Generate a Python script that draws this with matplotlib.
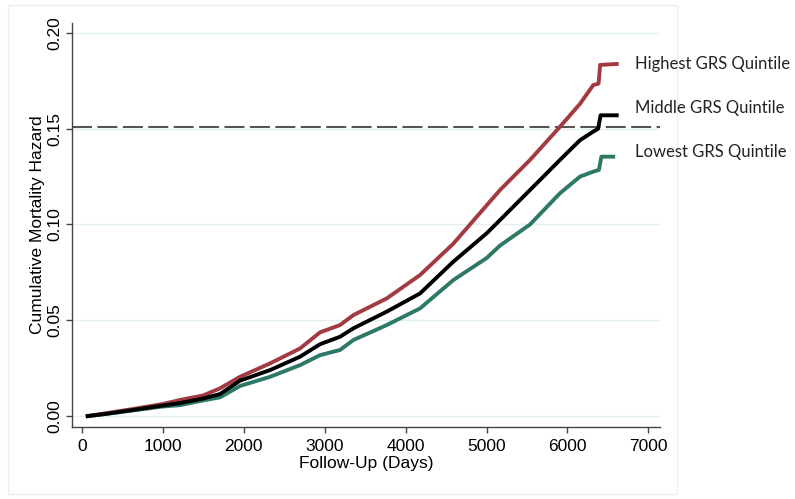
import matplotlib.pyplot as plt
from matplotlib.patches import Rectangle

# Cumulative hazard
dias_alto = [70, 300, 600, 1000, 1211, 1500, 1706, 1953, 2324, 2695, 2942, 3189,
             3354, 3766, 4178, 4590, 5002, 5167, 5538, 5908, 6156, 6320, 6385,
             6405, 6610]
haz_alto = [0.0, 0.0015, 0.0035, 0.0063, 0.0084, 0.0108, 0.0145, 0.0205, 0.0275,
            0.0353, 0.0437, 0.0475, 0.0527, 0.0614, 0.0736, 0.090, 0.110, 0.118,
            0.1337, 0.151, 0.163, 0.1728, 0.1735, 0.1833, 0.1838]

dias_medio = [70, 300, 600, 1000, 1211, 1500, 1706, 1953, 2324, 2695, 2942, 3189,
              3354, 3766, 4178, 4590, 5002, 5167, 5538, 5908, 6156, 6320, 6380,
              6410, 6610]
haz_medio = [0.0, 0.0012, 0.003, 0.0055, 0.0068, 0.0092, 0.0115, 0.0185, 0.024,
             0.031, 0.0375, 0.0414, 0.0458, 0.0545, 0.064, 0.0806, 0.0954, 0.1023,
             0.118, 0.1337, 0.144, 0.1485, 0.150, 0.157, 0.157]

dias_baixo = [70, 300, 600, 1000, 1211, 1500, 1706, 1953, 2324, 2695, 2942, 3189,
              3354, 3766, 4178, 4590, 5002, 5167, 5538, 5908, 6156, 6320, 6390,
              6420, 6566]
haz_baixo = [0.0, 0.0011, 0.0028, 0.005, 0.0057, 0.0082, 0.0098, 0.0157, 0.0205,
             0.0266, 0.0318, 0.0345, 0.0397, 0.0475, 0.0562, 0.071, 0.0825, 0.089,
             0.100, 0.1163, 0.125, 0.1276, 0.1285, 0.1354, 0.1354]

rotulos = ["Highest GRS Quintile", "Middle GRS Quintile", "Lowest GRS Quintile"]
limiar = 0.151

xticks = [0, 1000, 2000, 3000, 4000, 5000, 6000, 7000]
yticks = [0.00, 0.05, 0.10, 0.15, 0.20]

fig = plt.figure(figsize=(7.95, 4.99), dpi=100)
ax = fig.add_axes([0.0906, 0.1443, 0.7396, 0.8097])

# moldura clara do grafico original
fig.patches.append(Rectangle((8 / 795, 1 - 494 / 499), (677 - 8) / 795, (494 - 5) / 499,
                             transform=fig.transFigure, fill=False,
                             edgecolor="#eeeeee", linewidth=1))

for y in yticks:
    ax.axhline(y, color="#e2f0f0", linewidth=1, zorder=0)

ax.axhline(limiar, color="#555555", linewidth=1.5, dashes=(9.6, 2.6), zorder=1)

ax.plot(dias_baixo, haz_baixo, color="#2e7867", linewidth=2.8, zorder=2)
ax.plot(dias_alto, haz_alto, color="#a23a42", linewidth=2.8, zorder=3)
ax.plot(dias_medio, haz_medio, color="black", linewidth=2.8, zorder=4)

ax.set_xlim(-124, 7145)
ax.set_ylim(-0.0057, 0.2052)
ax.set_xticks(xticks)
ax.set_xticklabels([str(x) for x in xticks])
ax.set_yticks(yticks)
ax.set_yticklabels([f"{y:.2f}" for y in yticks], rotation=90, va="center")

for lado in ["top", "right"]:
    ax.spines[lado].set_visible(False)
for lado in ["left", "bottom"]:
    ax.spines[lado].set_color("#444444")
    ax.spines[lado].set_linewidth(1)

ax.tick_params(axis="both", direction="out", length=4, width=1, color="#444444",
               labelsize=12.5)
ax.tick_params(axis="x", pad=5)
ax.tick_params(axis="y", pad=3)
for t in ax.get_xticklabels() + ax.get_yticklabels():
    t.set_family("Liberation Sans")

ax.set_xlabel("Follow-Up (Days)", family="Liberation Sans", fontsize=12.5, labelpad=1)
ax.set_ylabel("Cumulative Mortality Hazard", family="Liberation Sans", fontsize=12.5,
              labelpad=2)

for texto, ypx in zip(rotulos, [64, 108, 152]):
    fig.text(635 / 795, 1 - ypx / 499, texto, family="Lato", fontsize=12,
             color="#222222", va="center", ha="left")

fig.savefig("out.png", dpi=100)
